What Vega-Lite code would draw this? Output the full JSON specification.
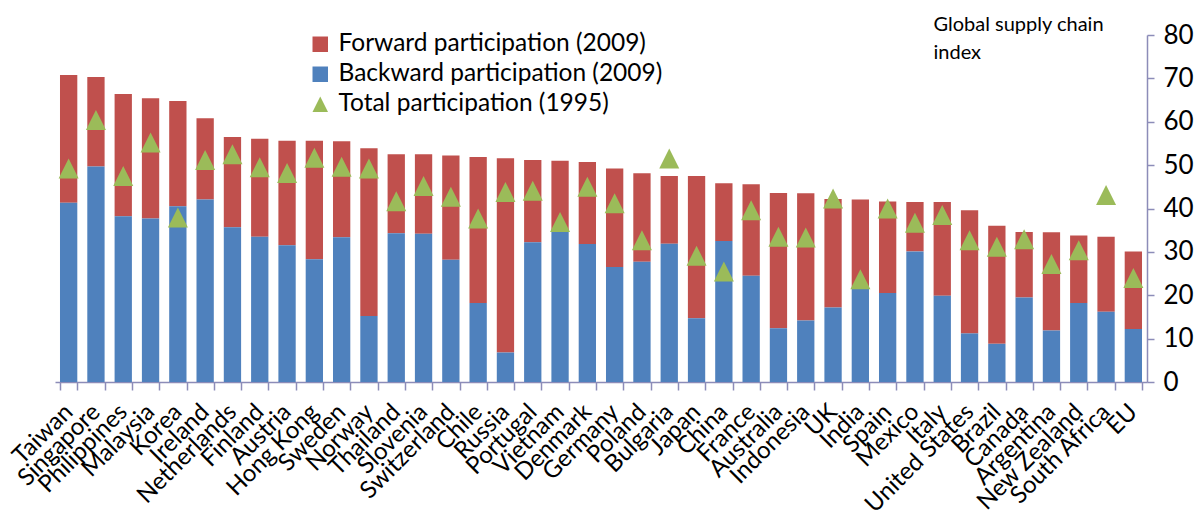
{
  "$schema": "https://vega.github.io/schema/vega-lite/v6.json",
  "width": 1092,
  "height": 347,
  "autosize": {"type": "none"},
  "padding": {"left": 55, "top": 35, "right": 56, "bottom": 136},
  "background": "white",
  "config": {"font": "Lato", "view": {"stroke": null}},
  "data": {"values": [
    {"country": "Taiwan", "backward": 41.3, "forward": 29.5, "total": 49.2},
    {"country": "Singapore", "backward": 49.7, "forward": 20.6, "total": 60.4},
    {"country": "Philippines", "backward": 38.2, "forward": 28.2, "total": 47.5},
    {"country": "Malaysia", "backward": 37.7, "forward": 27.7, "total": 55.2},
    {"country": "Korea", "backward": 40.5, "forward": 24.3, "total": 37.9},
    {"country": "Ireland", "backward": 42.1, "forward": 18.7, "total": 51.2},
    {"country": "Netherlands", "backward": 35.7, "forward": 20.8, "total": 52.5},
    {"country": "Finland", "backward": 33.5, "forward": 22.6, "total": 49.5},
    {"country": "Austria", "backward": 31.5, "forward": 24.1, "total": 48.2},
    {"country": "Hong Kong", "backward": 28.3, "forward": 27.3, "total": 51.7},
    {"country": "Sweden", "backward": 33.4, "forward": 22.1, "total": 49.6},
    {"country": "Norway", "backward": 15.2, "forward": 38.7, "total": 49.2},
    {"country": "Thailand", "backward": 34.3, "forward": 18.2, "total": 41.7},
    {"country": "Slovenia", "backward": 34.2, "forward": 18.3, "total": 45.2},
    {"country": "Switzerland", "backward": 28.2, "forward": 24.0, "total": 42.7},
    {"country": "Chile", "backward": 18.2, "forward": 33.7, "total": 37.7},
    {"country": "Russia", "backward": 6.8, "forward": 44.8, "total": 43.8},
    {"country": "Portugal", "backward": 32.2, "forward": 19.0, "total": 44.1},
    {"country": "Vietnam", "backward": 35.0, "forward": 16.0, "total": 36.9},
    {"country": "Denmark", "backward": 31.8, "forward": 18.9, "total": 45.0},
    {"country": "Germany", "backward": 26.5, "forward": 22.7, "total": 41.2},
    {"country": "Poland", "backward": 27.7, "forward": 20.4, "total": 32.7},
    {"country": "Bulgaria", "backward": 31.9, "forward": 15.6, "total": 51.5},
    {"country": "Japan", "backward": 14.7, "forward": 32.8, "total": 29.1},
    {"country": "China", "backward": 32.5, "forward": 13.3, "total": 25.5},
    {"country": "France", "backward": 24.5, "forward": 21.1, "total": 39.6},
    {"country": "Australia", "backward": 12.4, "forward": 31.2, "total": 33.5},
    {"country": "Indonesia", "backward": 14.2, "forward": 29.3, "total": 33.3},
    {"country": "UK", "backward": 17.2, "forward": 25.0, "total": 42.3},
    {"country": "India", "backward": 21.5, "forward": 20.6, "total": 23.7},
    {"country": "Spain", "backward": 20.5, "forward": 21.1, "total": 40.0},
    {"country": "Mexico", "backward": 30.1, "forward": 11.4, "total": 36.7},
    {"country": "Italy", "backward": 19.9, "forward": 21.6, "total": 38.5},
    {"country": "United States", "backward": 11.2, "forward": 28.4, "total": 32.7},
    {"country": "Brazil", "backward": 8.8, "forward": 27.2, "total": 31.2},
    {"country": "Canada", "backward": 19.5, "forward": 15.1, "total": 32.9},
    {"country": "Argentina", "backward": 11.9, "forward": 22.6, "total": 27.2},
    {"country": "New Zealand", "backward": 18.2, "forward": 15.6, "total": 30.4},
    {"country": "South Africa", "backward": 16.2, "forward": 17.3, "total": 43.1},
    {"country": "EU", "backward": 12.2, "forward": 17.9, "total": 24.0}
  ]},
  "transform": [{"fold": ["forward", "backward", "total"], "as": ["series", "value"]}],
  "encoding": {
    "x": {
      "field": "country", "type": "nominal", "sort": null,
      "scale": {"paddingInner": 0.366, "paddingOuter": 0.183},
      "axis": {
        "title": null, "labelAngle": -45, "labelAlign": "right", "labelBaseline": "middle",
        "labelFontSize": 24, "labelColor": "black", "labelPadding": 18,
        "labelOverlap": false, "labelLimit": 0,
        "domainColor": "#8C8CB8", "domainWidth": 1.5,
        "tickColor": "#8C8CB8", "tickWidth": 1.5, "tickSize": 8, "tickBand": "extent"
      }
    }
  },
  "layer": [
    {
      "transform": [{"filter": "datum.series !== 'total'"}],
      "mark": {"type": "bar"},
      "encoding": {
        "y": {
          "field": "value", "type": "quantitative", "stack": "zero",
          "scale": {"domain": [0, 80], "nice": false},
          "axis": {
            "orient": "right", "values": [0, 10, 20, 30, 40, 50, 60, 70, 80], "grid": false,
            "labelFontSize": 26, "labelColor": "black", "labelPadding": 9,
            "domainColor": "#8C8CB8", "domainWidth": 1.5,
            "tickColor": "#8C8CB8", "tickWidth": 1.5, "tickSize": 7,
            "title": ["Global supply chain", "index"], "titleAngle": 0, "titleAlign": "left",
            "titleBaseline": "alphabetic", "titleX": -214, "titleY": -5,
            "titleFontSize": 20, "titleFontWeight": "normal", "titleColor": "black", "titleLineHeight": 28
          }
        },
        "color": {
          "field": "series", "type": "nominal",
          "scale": {"domain": ["forward", "backward", "total"], "range": ["#C0504D", "#4F81BD", "#9BBB59"]},
          "legend": {
            "orient": "none", "legendX": 253, "legendY": -3, "title": null,
            "labelFontSize": 24.5, "labelColor": "black", "labelLimit": 0, "symbolSize": 240, "labelOffset": 6,
            "rowPadding": 5, "symbolOpacity": 1, "symbolStrokeWidth": 0,
            "labelExpr": "datum.value === 'forward' ? 'Forward participation (2009)' : datum.value === 'backward' ? 'Backward participation (2009)' : 'Total participation (1995)'"
          }
        },
        "order": {"field": "series", "sort": "ascending"}
      }
    },
    {
      "transform": [{"filter": "datum.series === 'total'"}],
      "mark": {"type": "point", "filled": true, "opacity": 1, "size": 400},
      "encoding": {
        "y": {"field": "value", "type": "quantitative", "stack": null},
        "color": {"field": "series", "type": "nominal"},
        "shape": {
          "field": "series", "type": "nominal",
          "scale": {"domain": ["forward", "backward", "total"], "range": ["square", "square", "M-1,1L0,-1L1,1Z"]},
          "legend": {
            "orient": "none", "legendX": 253, "legendY": -3, "title": null,
            "labelFontSize": 24.5, "labelColor": "black", "labelLimit": 0, "symbolSize": 240, "labelOffset": 6,
            "rowPadding": 5, "symbolOpacity": 1, "symbolStrokeWidth": 0,
            "labelExpr": "datum.value === 'forward' ? 'Forward participation (2009)' : datum.value === 'backward' ? 'Backward participation (2009)' : 'Total participation (1995)'"
          }
        }
      }
    }
  ]
}
